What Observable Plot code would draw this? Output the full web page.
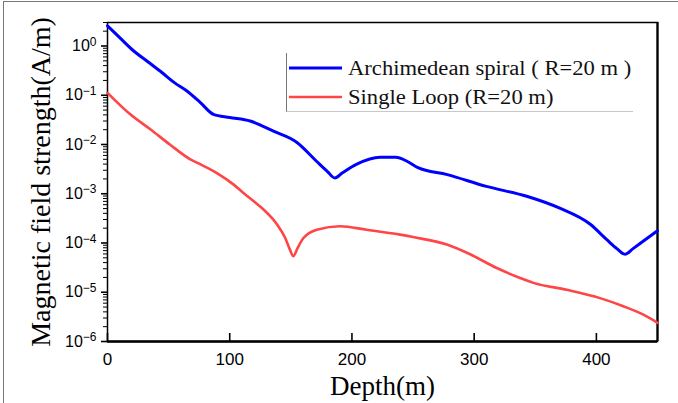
<!DOCTYPE html>
<html><head><meta charset="utf-8">
<script src="https://cdn.jsdelivr.net/npm/d3@7"></script>
<script src="https://cdn.jsdelivr.net/npm/@observablehq/plot@0.6"></script>
<style>
body{margin:0;background:#fff}
#wrap{position:relative;width:678px;height:403px;overflow:hidden;background:#fff}
#frame{position:absolute;left:3px;top:1px;width:700px;height:420px;border-left:1px solid #777;border-top:1px solid #777;pointer-events:none}
#legend{position:absolute;left:286px;top:53px;width:346px;height:58px;border-left:1px solid #777;border-bottom:1px solid #c8c8c8;font-family:"Liberation Serif",serif;font-size:20px;color:#111}
.row{position:absolute;left:0;height:28px;display:flex;align-items:center;white-space:nowrap}
.sw{width:53px;margin-left:2px;margin-right:6px;flex:none}
.row span{display:inline-block;transform:scaleX(1.13);transform-origin:left center}
</style></head>
<body><div id="wrap"><div id="chart"></div><div id="frame"></div><div id="legend"></div></div>
<script>
// Archimedean spiral (R=20 m)
const depthBlue = [0, 10, 21, 33, 44.5, 55, 65, 76, 86.7, 100, 116.7, 135.8, 155, 171, 180, 186, 192, 204, 223, 236, 245, 254, 278, 310, 343, 370, 395, 408.5, 417, 423.5, 430, 438.5, 450];
const fieldBlue = [2.57, 1.48, 0.81, 0.48, 0.29, 0.178, 0.122, 0.071, 0.041, 0.0355, 0.030, 0.0186, 0.011, 0.00457, 0.00282, 0.00209, 0.00263, 0.00398, 0.0055, 0.0055, 0.00457, 0.00339, 0.00245, 0.00141, 0.00089, 0.00051, 0.00024, 0.000117, 0.000076, 0.000059, 0.000077, 0.00011, 0.000178];
// Single Loop (R=20 m)
const depthRed = [0, 18.6, 35, 51, 67.7, 75.8, 89.5, 103, 111, 119.4, 127.6, 138.6, 145.4, 149, 152, 155.5, 160.3, 171.3, 190.3, 212, 239.4, 250, 277.6, 296.7, 318.5, 337.6, 348.5, 375.8, 403, 422, 438.5, 450];
const fieldRed = [0.112, 0.041, 0.0204, 0.01, 0.005, 0.00398, 0.00263, 0.00155, 0.00105, 0.00071, 0.00048, 0.00024, 0.000126, 0.000076, 0.000054, 0.000079, 0.000126, 0.000186, 0.000219, 0.000186, 0.000148, 0.000132, 0.000093, 0.000059, 0.000031, 0.0000195, 0.0000155, 0.0000112, 0.0000076, 0.0000052, 0.0000035, 0.0000024];

const seriesNames = ["Archimedean spiral ( R=20 m )", "Single Loop (R=20 m)"];
const seriesColors = ["#0000ff", "#ff4545"];
const xTicks = [0, 100, 200, 300, 400];
const yExponents = [0, -1, -2, -3, -4, -5, -6];
const xLabel = "Depth(m)";
const yLabel = "Magnetic field strength(A/m)";

const yTicks = yExponents.map(e => Math.pow(10, e));
const yMinor = [];
for (const e of yExponents.slice(1)) for (let m = 2; m <= 9; m++) yMinor.push(m * Math.pow(10, e));
yMinor.push(2, 3);

const fmt = d => "10|" + String(Math.round(Math.log10(d))).replace("-", "\u2212");

const data = [
  ...depthBlue.map((d, i) => ({depth: d, value: fieldBlue[i], series: seriesNames[0]})),
  ...depthRed.map((d, i) => ({depth: d, value: fieldRed[i], series: seriesNames[1]}))
];

const chart = Plot.plot({
  width: 678, height: 403,
  marginLeft: 107, marginRight: 21, marginTop: 22, marginBottom: 62,
  style: {background: "transparent", color: "#000"},
  x: {domain: [0, 450]},
  y: {type: "log", domain: [1e-6, 3]},
  color: {domain: seriesNames, range: seriesColors},
  marks: [
    Plot.axisY({ticks: yMinor, tickSize: 4, fill: "none", label: null}),
    Plot.axisY({ticks: yTicks, tickSize: 6, strokeWidth: 1.6, tickFormat: fmt, tickPadding: 5, fontSize: 16, fontFamily: "Liberation Sans, Arial", label: null}),
    Plot.axisY({ticks: [], tickSize: 0, label: yLabel, labelAnchor: "center", labelArrow: "none", labelOffset: 77, fontSize: 28, fontFamily: "Liberation Serif, serif"}),
    Plot.axisX({ticks: xTicks, tickSize: -8, strokeWidth: 1.6, fill: "none", label: null}),
    Plot.axisX({ticks: xTicks, tickSize: 0, tickPadding: 11, fontSize: 17, fontFamily: "Liberation Sans, Arial", label: null}),
    Plot.axisX({ticks: [], tickSize: 0, label: xLabel, labelAnchor: "center", labelArrow: "none", labelOffset: 53, fontSize: 27, fontFamily: "Liberation Serif, serif"}),
    Plot.frame({stroke: "#000", strokeWidth: 1.5}),
    Plot.ruleY([1e-6], {stroke: "#000", strokeWidth: 2.5}),
    Plot.ruleX([450], {stroke: "#000", strokeWidth: 2.2}),
    Plot.line(data, {x: "depth", y: "value", z: "series", stroke: "series", strokeWidth: d => d.series === seriesNames[0] ? 3 : 2.6, curve: "monotone-x"})
  ]
});
document.getElementById("chart").appendChild(chart);

// render the exponents as real superscripts
chart.querySelectorAll("text").forEach(t => {
  const s = t.textContent;
  if (s.startsWith("10|")) {
    const exp = s.slice(3);
    t.textContent = "10";
    const ts = document.createElementNS("http://www.w3.org/2000/svg", "tspan");
    ts.setAttribute("dy", "-0.45em");
    ts.setAttribute("font-size", "12px");
    ts.textContent = exp;
    t.appendChild(ts);
  }
});

const legend = document.getElementById("legend");
seriesNames.forEach((name, i) => {
  const row = document.createElement("div");
  row.className = "row";
  row.style.top = (1 + i * 29) + "px";
  row.innerHTML = `<svg class="sw" width="53" height="6"><line x1="0" x2="53" y1="3" y2="3" stroke="${seriesColors[i]}" stroke-width="${i === 0 ? 3 : 2.6}"/></svg><span>${name}</span>`;
  legend.appendChild(row);
});
</script>
</body></html>
